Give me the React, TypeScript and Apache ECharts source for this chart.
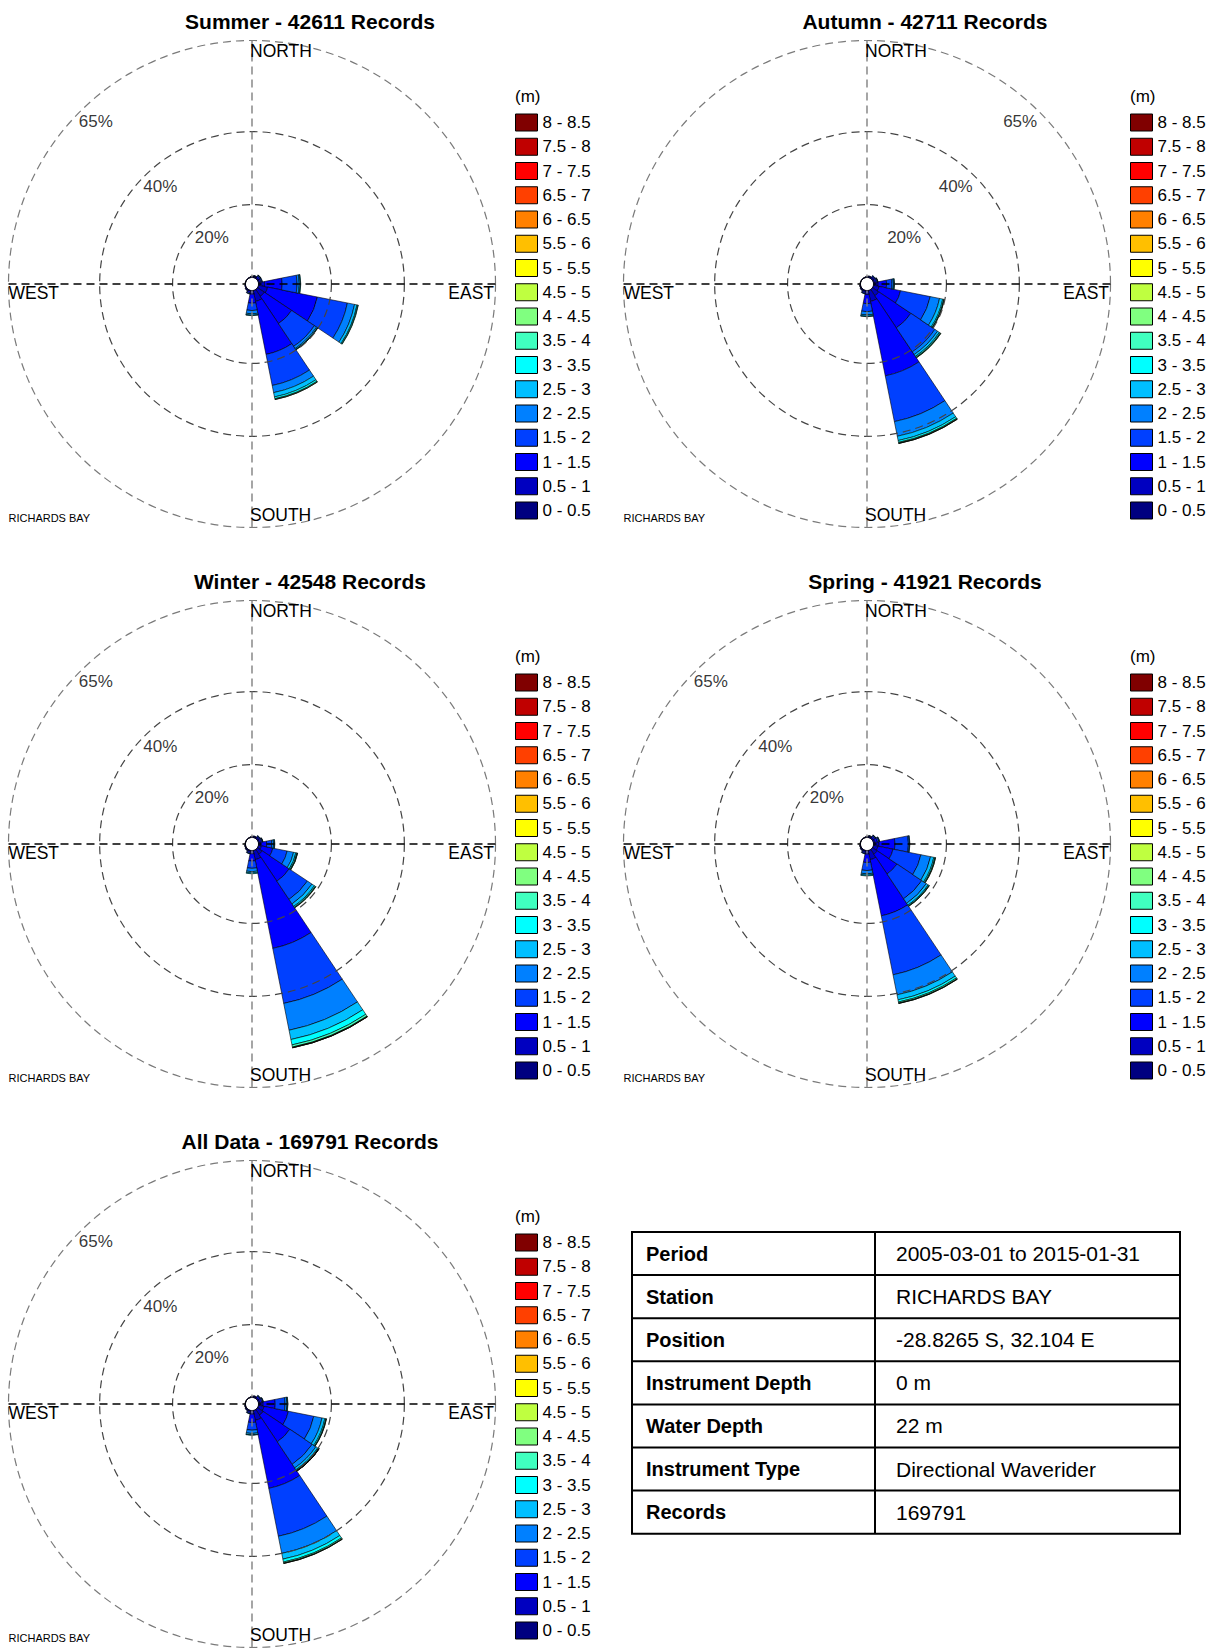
import React, { useEffect, useRef } from 'react';
import * as echarts from 'echarts';

// ---------- DATA ----------
const directions = ['N', 'NNE', 'NE', 'ENE', 'E', 'ESE', 'SE', 'SSE', 'S', 'SSW', 'SW', 'WSW', 'W', 'WNW', 'NW', 'NNW'];
const heightBins = ['0 - 0.5', '0.5 - 1', '1 - 1.5', '1.5 - 2', '2 - 2.5', '2.5 - 3', '3 - 3.5', '3.5 - 4', '4 - 4.5', '4.5 - 5', '5 - 5.5', '5.5 - 6', '6 - 6.5', '6.5 - 7', '7 - 7.5', '7.5 - 8', '8 - 8.5'];
const binColors = ['#000080', '#0000C0', '#0000FF', '#0040FF', '#0080FF', '#00BFFF', '#00FFFF', '#40FFBF', '#80FF80', '#BFFF40', '#FFFF00', '#FFBF00', '#FF8000', '#FF4000', '#FF0000', '#C00000', '#800000'];
const radiusTicks = [20, 40, 65];
const seasonNames = ['Summer', 'Autumn', 'Winter', 'Spring', 'All Data'];
const seasonRecords = [42611, 42711, 42548, 41921, 169791];
const tickLabelDirection = ['NW', 'NE', 'NW', 'NW', 'NW'];
const stationLabel = 'RICHARDS BAY';
const cardinalLabels = ['NORTH', 'EAST', 'SOUTH', 'WEST'];
const unitLabel = '(m)';

// percent of records; one row per direction (N..NNW), one column per height bin (0-0.5 .. 8-8.5)
const summerRose = [
  [0.05, 0.15, 0.1, 0.05],
  [0.05, 0.2, 0.2, 0.1, 0.05],
  [0.05, 0.3, 0.4, 0.3, 0.1, 0.05],
  [0.05, 0.3, 0.4, 0.3, 0.1],
  [0.1, 1.6, 4.8, 4.1, 0.6, 0.3, 0.1],
  [0.1, 2.5, 13.9, 8.4, 2.0, 0.7, 0.25, 0.1],
  [0.1, 2.2, 9.0, 7.5, 0.7, 0.3, 0.1, 0.05],
  [0.1, 3.0, 14.8, 8.7, 2.0, 1.2, 0.5, 0.2, 0.05],
  [0.1, 0.9, 2.5, 2.0, 0.9, 0.4, 0.1],
  [0.05, 0.2, 0.4, 0.3, 0.1],
  [0.05, 0.15, 0.2, 0.1],
  [0.05, 0.1, 0.1],
  [0.02, 0.05, 0.05],
  [0.02, 0.05, 0.03],
  [0.02, 0.05, 0.03],
  [0.02, 0.1, 0.05],
];
const autumnRose = [
  [0.05, 0.15, 0.1],
  [0.05, 0.2, 0.15, 0.1],
  [0.05, 0.3, 0.35, 0.2, 0.1],
  [0.05, 0.3, 0.5, 0.3, 0.1, 0.05],
  [0.1, 1.2, 2.3, 1.5, 0.4, 0.2, 0.1],
  [0.1, 1.5, 6.0, 8.3, 2.6, 0.9, 0.3, 0.1, 0.05],
  [0.1, 2.0, 10.6, 7.9, 0.9, 0.6, 0.3, 0.15, 0.05],
  [0.1, 3.0, 20.8, 12.8, 4.1, 1.2, 0.5, 0.2, 0.1, 0.03],
  [0.1, 1.0, 2.5, 2.2, 0.9, 0.4, 0.1],
  [0.05, 0.2, 0.35, 0.3, 0.1],
  [0.05, 0.15, 0.2, 0.1],
  [0.03, 0.1, 0.1, 0.05],
  [0.02, 0.05, 0.05],
  [0.02, 0.04, 0.03],
  [0.02, 0.04, 0.03],
  [0.02, 0.08, 0.05],
];
const winterRose = [
  [0.05, 0.15, 0.1],
  [0.05, 0.2, 0.15, 0.1],
  [0.05, 0.3, 0.35, 0.2, 0.1],
  [0.05, 0.3, 0.5, 0.3, 0.1, 0.05],
  [0.05, 0.6, 1.6, 1.4, 0.5, 0.25, 0.1],
  [0.05, 0.8, 3.2, 4.0, 1.8, 0.65, 0.3, 0.15, 0.05],
  [0.1, 1.5, 8.9, 6.0, 1.5, 0.8, 0.3, 0.15, 0.05],
  [0.1, 2.5, 24.8, 15.4, 7.5, 2.6, 1.5, 0.6, 0.15, 0.05, 0.02],
  [0.1, 0.8, 2.0, 2.0, 0.9, 0.4, 0.2],
  [0.05, 0.2, 0.35, 0.3, 0.1],
  [0.05, 0.15, 0.2, 0.1],
  [0.03, 0.1, 0.1, 0.05],
  [0.02, 0.05, 0.05],
  [0.02, 0.04, 0.03],
  [0.02, 0.04, 0.03],
  [0.02, 0.08, 0.05],
];
const springRose = [
  [0.05, 0.15, 0.1],
  [0.05, 0.2, 0.2, 0.1, 0.05],
  [0.05, 0.3, 0.4, 0.3, 0.1, 0.05],
  [0.05, 0.4, 0.7, 0.4, 0.15, 0.05],
  [0.1, 1.4, 4.4, 3.7, 0.3, 0.1],
  [0.1, 1.2, 4.2, 7.8, 2.7, 0.9, 0.3, 0.15, 0.05],
  [0.1, 1.5, 6.5, 8.2, 1.5, 0.6, 0.25, 0.1, 0.05],
  [0.1, 2.5, 15.7, 16.5, 5.6, 1.4, 0.6, 0.3, 0.1, 0.03],
  [0.1, 0.9, 2.3, 2.2, 0.9, 0.4, 0.2],
  [0.05, 0.2, 0.35, 0.3, 0.1],
  [0.05, 0.15, 0.2, 0.1],
  [0.03, 0.1, 0.1, 0.05],
  [0.02, 0.05, 0.05],
  [0.02, 0.04, 0.03],
  [0.02, 0.04, 0.03],
  [0.02, 0.08, 0.05],
];
const allDataRose = [
  [0.05, 0.15, 0.1],
  [0.05, 0.2, 0.2, 0.1],
  [0.05, 0.3, 0.4, 0.25, 0.1],
  [0.05, 0.35, 0.55, 0.3, 0.1, 0.05],
  [0.1, 1.2, 3.3, 2.7, 0.5, 0.2, 0.1],
  [0.1, 1.5, 6.8, 7.1, 2.3, 0.8, 0.3, 0.1, 0.05],
  [0.1, 1.8, 8.8, 7.4, 1.2, 0.6, 0.25, 0.1, 0.05, 0.02, 0.02, 0.02],
  [0.1, 2.7, 19.0, 13.4, 4.8, 1.6, 0.8, 0.3, 0.1, 0.03],
  [0.1, 0.9, 2.3, 2.1, 0.9, 0.4, 0.1],
  [0.05, 0.2, 0.35, 0.3, 0.1],
  [0.05, 0.15, 0.2, 0.1],
  [0.03, 0.1, 0.1, 0.05],
  [0.02, 0.05, 0.05],
  [0.02, 0.04, 0.03],
  [0.02, 0.04, 0.03],
  [0.02, 0.08, 0.05],
];
const seasonRoses = [summerRose, autumnRose, winterRose, springRose, allDataRose];

const tableLabels = ['Period', 'Station', 'Position', 'Instrument Depth', 'Water Depth', 'Instrument Type', 'Records'];
const tableValues = ['2005-03-01 to 2015-01-31', 'RICHARDS BAY', '-28.8265 S, 32.104 E', '0 m', '22 m', 'Directional Waverider', '169791'];

// ---------- LAYOUT / STYLE ----------
const W = 1219;
const H = 1648;
const FONT = '"Liberation Sans", Arial, Helvetica, sans-serif';
const CX = [252, 867, 252, 867, 252];
const CY = [284, 284, 844, 844, 1404];
const R_IN = 6.5;
const R_OUT = 243.5;
const RMAX = 65;
const RSTEP = 5;
const tickOffsets: Record<string, number[]> = { NW: [16, 10], NE: [-19, 10] };

const TX = 632;
const TY = 1232;
const TW = 548;
const RH = 43.1;
const TCOL = 875;

function buildOption() {
  const ringColors: string[] = [];
  for (let v = 0; v <= RMAX; v += RSTEP) {
    if (!radiusTicks.includes(v)) ringColors.push('rgba(0,0,0,0)');
    else ringColors.push(v === RMAX ? '#7a7a7a' : '#444444');
  }

  const polar: any[] = [];
  const angleAxis: any[] = [];
  const radiusAxis: any[] = [];
  const legend: any[] = [];
  const series: any[] = [];
  const graphic: any[] = [];

  seasonRoses.forEach((rows, i) => {
    polar.push({ center: [CX[i], CY[i]], radius: [R_IN, R_OUT] });
    angleAxis.push({
      polarIndex: i,
      type: 'category',
      data: directions,
      startAngle: 90 + 360 / directions.length / 2,
      clockwise: true,
      z: 5,
      axisLine: { show: false },
      axisLabel: { show: false, interval: 3 },
      axisTick: { show: false, alignWithLabel: true, interval: 3 },
      splitLine: { show: true, lineStyle: { color: ['#808080', '#000000'], type: [8, 5], width: 1.4 } },
    });
    radiusAxis.push({
      polarIndex: i,
      type: 'value',
      min: 0,
      max: RMAX,
      interval: RSTEP,
      z: 5,
      axisLine: { show: false },
      axisLabel: { show: false },
      axisTick: { show: false },
      splitLine: { show: true, lineStyle: { color: ringColors, type: [8, 5], width: 1.2 } },
    });
    legend.push({
      orient: 'vertical',
      left: CX[i] + 263,
      top: CY[i] - 170.5,
      padding: 0,
      itemWidth: 22,
      itemHeight: 17,
      itemGap: 6.25,
      icon: 'rect',
      selectedMode: false,
      data: [...heightBins].reverse(),
      itemStyle: { borderColor: '#000', borderWidth: 1 },
      textStyle: { fontSize: 17, color: '#000', fontFamily: FONT },
    });

    heightBins.forEach((bin, b) => {
      series.push({
        type: 'bar',
        coordinateSystem: 'polar',
        polarIndex: i,
        stack: 'rose' + i,
        name: bin,
        data: rows.map((r) => (r[b] ? r[b] : '-')),
        barCategoryGap: '0%',
        itemStyle: { color: binColors[b], borderColor: '#000', borderWidth: 0.6 },
        emphasis: { disabled: true },
        silent: true,
        z: 2,
      });
    });

    const off = tickOffsets[tickLabelDirection[i]];
    series.push({
      type: 'scatter',
      coordinateSystem: 'polar',
      polarIndex: i,
      name: 'ticks' + i,
      data: radiusTicks.map((v) => [v, tickLabelDirection[i]]),
      symbolSize: 0,
      silent: true,
      z: 10,
      label: {
        show: true,
        position: 'inside',
        offset: off,
        formatter: (p: any) => p.value[0] + '%',
        fontSize: 17,
        color: '#000',
        fontFamily: FONT,
      },
    });

    const cx = CX[i];
    const cy = CY[i];
    const txt = (x: number, y: number, text: string, size: number, align: string, weight = 'normal') => ({
      type: 'text',
      x,
      y,
      z: 20,
      silent: true,
      style: { text, fontSize: size, fontFamily: FONT, fontWeight: weight, fill: '#000', align, verticalAlign: 'middle' },
    });
    graphic.push(txt(cx + 58, cy - 263, `${seasonNames[i]} - ${seasonRecords[i]} Records`, 21, 'center', 'bold'));
    graphic.push(txt(cx - 2, cy - 233.5, cardinalLabels[0], 17.5, 'left'));
    graphic.push(txt(cx + 242, cy + 8.5, cardinalLabels[1], 17.5, 'right'));
    graphic.push(txt(cx - 2, cy + 231, cardinalLabels[2], 17.5, 'left'));
    graphic.push(txt(cx - 243.5, cy + 8.5, cardinalLabels[3], 17.5, 'left'));
    graphic.push(txt(cx - 243.5, cy + 234, stationLabel, 11, 'left'));
    graphic.push(txt(cx + 263, cy - 188, unitLabel, 17, 'left'));
  });

  // table
  const th = RH * tableLabels.length;
  graphic.push({
    type: 'rect',
    z: 20,
    silent: true,
    shape: { x: TX, y: TY, width: TW, height: th },
    style: { fill: '#fff', stroke: '#000', lineWidth: 2 },
  });
  for (let r = 1; r < tableLabels.length; r++) {
    graphic.push({
      type: 'line',
      z: 21,
      silent: true,
      shape: { x1: TX, y1: TY + r * RH, x2: TX + TW, y2: TY + r * RH },
      style: { stroke: '#000', lineWidth: 2 },
    });
  }
  graphic.push({
    type: 'line',
    z: 21,
    silent: true,
    shape: { x1: TCOL, y1: TY, x2: TCOL, y2: TY + th },
    style: { stroke: '#000', lineWidth: 2 },
  });
  tableLabels.forEach((lab, r) => {
    const y = TY + r * RH + RH / 2;
    graphic.push({
      type: 'text',
      x: TX + 14,
      y,
      z: 22,
      silent: true,
      style: { text: lab, fontSize: 20, fontWeight: 'bold', fontFamily: FONT, fill: '#000', verticalAlign: 'middle', align: 'left' },
    });
    graphic.push({
      type: 'text',
      x: TCOL + 21,
      y,
      z: 22,
      silent: true,
      style: { text: tableValues[r], fontSize: 21, fontFamily: FONT, fill: '#000', verticalAlign: 'middle', align: 'left' },
    });
  });

  return {
    animation: false,
    backgroundColor: '#ffffff',
    textStyle: { fontFamily: FONT },
    polar,
    angleAxis,
    radiusAxis,
    legend,
    series,
    graphic,
  };
}

export default function App() {
  const ref = useRef<HTMLDivElement>(null);
  useEffect(() => {
    if (!ref.current) return;
    const chart = echarts.init(ref.current, undefined, { renderer: 'svg', width: W, height: H });
    chart.setOption(buildOption() as any);
    return () => chart.dispose();
  }, []);
  return <div ref={ref} style={{ position: 'absolute', left: 0, top: 0, width: W, height: H, background: '#fff' }} />;
}
